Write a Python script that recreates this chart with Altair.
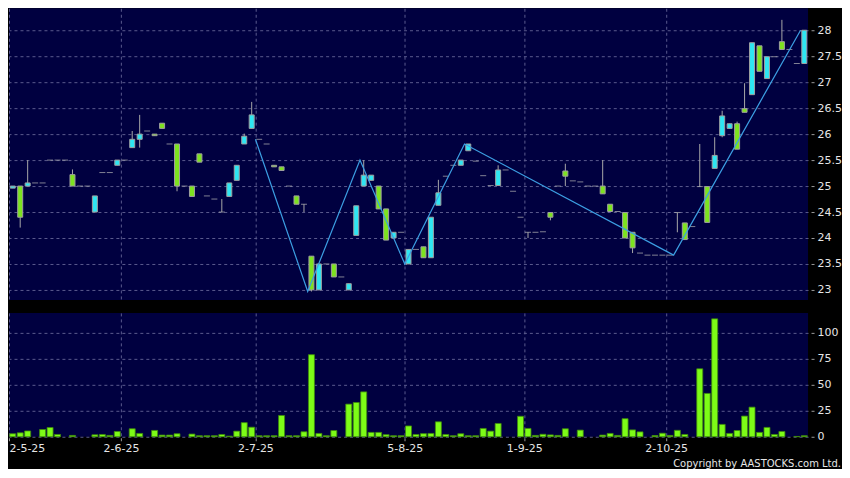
import altair as alt
import pandas as pd
import numpy as np

# ---------------- data ----------------
slot = list(range(107))
open_ = [24.96, 25.00, 25.00, 25.06, 25.06, 25.50, 25.50, 25.50, 25.22, 25.00,
         25.00, 24.50, 25.26, 25.26, 25.40, 25.50, 25.74, 25.90, 26.06, 26.00,
         26.21, 25.81, 25.81, 25.00, 25.00, 25.62, 24.81, 24.75, 24.50, 24.80,
         25.11, 25.81, 26.11, 25.90, 25.81, 25.40, 25.37, 25.00, 24.81, 24.65,
         23.65, 23.00, 23.50, 23.50, 23.25, 23.00, 24.05, 25.00, 25.11, 25.00,
         24.56, 24.00, 24.11, 23.50, 23.78, 23.83, 23.62, 24.63, 25.19, 25.40,
         25.40, 25.68, 25.48, 25.20, 25.01, 25.01, 25.31, 24.90, 24.40, 24.11,
         24.11, 24.12, 24.49, 25.00, 25.29, 25.10, 25.08, 25.00, 25.00, 25.00,
         24.65, 24.51, 24.49, 24.11, 23.71, 23.67, 23.67, 23.67, 23.67, 24.49,
         24.29, 24.22, 24.99, 24.99, 25.34, 25.97, 26.11, 26.20, 26.49, 26.76,
         27.70, 27.07, 27.49, 27.78, 27.63, 27.36, 27.36]
high = [25.00, 25.00, 25.50, 25.06, 25.06, 25.50, 25.50, 25.50, 25.32, 25.00,
        25.00, 24.81, 25.26, 25.26, 25.50, 25.50, 26.06, 26.37, 26.06, 26.00,
        26.21, 25.81, 25.81, 25.00, 25.00, 25.62, 24.81, 24.75, 24.75, 25.06,
        25.40, 26.01, 26.62, 25.90, 25.81, 25.40, 25.37, 25.00, 24.81, 24.65,
        23.65, 23.50, 23.50, 23.50, 23.25, 23.12, 24.62, 25.50, 25.21, 25.00,
        24.56, 24.11, 24.11, 23.78, 23.78, 23.83, 24.40, 25.12, 25.19, 25.40,
        25.50, 25.81, 25.48, 25.20, 25.01, 25.40, 25.31, 24.90, 24.40, 24.11,
        24.11, 24.12, 24.49, 25.00, 25.43, 25.10, 25.08, 25.00, 25.00, 25.50,
        24.65, 24.51, 24.49, 24.11, 23.71, 23.67, 23.67, 23.67, 23.67, 24.49,
        24.29, 24.22, 25.81, 24.99, 25.94, 26.45, 26.20, 26.24, 26.98, 27.76,
        27.70, 27.49, 27.49, 28.20, 27.63, 27.36, 28.00]
low = [24.96, 24.20, 25.00, 25.06, 25.06, 25.50, 25.50, 25.50, 25.00, 25.00,
       25.00, 24.50, 25.26, 25.26, 25.40, 25.50, 25.74, 25.74, 26.06, 25.97,
       26.11, 25.81, 24.90, 25.00, 24.80, 25.46, 24.81, 24.75, 24.50, 24.80,
       25.11, 25.81, 26.11, 25.90, 25.81, 25.37, 25.30, 25.00, 24.65, 24.50,
       22.97, 23.00, 23.50, 23.25, 23.25, 23.00, 24.05, 25.00, 25.11, 24.56,
       23.96, 24.00, 24.11, 23.50, 23.78, 23.62, 23.62, 24.63, 25.19, 25.40,
       25.40, 25.68, 25.48, 25.20, 25.01, 25.01, 25.31, 24.90, 24.40, 24.00,
       24.11, 24.12, 24.34, 25.00, 25.00, 25.10, 25.08, 25.00, 25.00, 24.85,
       24.51, 24.51, 24.00, 23.71, 23.71, 23.67, 23.67, 23.67, 23.67, 24.11,
       23.97, 24.22, 24.99, 24.30, 25.34, 25.94, 26.10, 25.71, 26.42, 26.76,
       27.21, 27.07, 27.49, 27.63, 27.63, 27.36, 27.36]
close = [25.00, 24.40, 25.06, 25.06, 25.06, 25.50, 25.50, 25.50, 25.00, 25.00,
         25.00, 24.81, 25.26, 25.26, 25.50, 25.50, 25.90, 26.00, 26.06, 25.97,
         26.11, 25.81, 25.00, 25.00, 24.80, 25.46, 24.81, 24.75, 24.50, 25.06,
         25.40, 25.96, 26.37, 25.90, 25.81, 25.37, 25.30, 25.00, 24.65, 24.65,
         23.00, 23.50, 23.50, 23.25, 23.25, 23.12, 24.62, 25.21, 25.21, 24.56,
         23.96, 24.11, 24.11, 23.78, 23.78, 23.62, 24.40, 24.87, 25.19, 25.40,
         25.50, 25.81, 25.48, 25.20, 25.01, 25.31, 25.31, 24.90, 24.40, 24.11,
         24.11, 24.12, 24.40, 25.00, 25.19, 25.10, 25.08, 25.00, 25.00, 24.85,
         24.51, 24.51, 24.00, 23.81, 23.71, 23.67, 23.67, 23.67, 23.67, 24.49,
         23.97, 24.22, 24.99, 24.30, 25.59, 26.35, 26.20, 25.71, 26.42, 27.76,
         27.21, 27.49, 27.49, 27.63, 27.63, 27.36, 28.00]
volume = [2.9, 3.8, 5.6, 0, 7.0, 8.9, 2.2, 0, 1.3, 0,
          0, 1.9, 2.2, 1.3, 5.1, 0, 7.7, 3.2, 0, 6.1,
          1.6, 1.6, 2.9, 0, 2.6, 1.0, 1.0, 1.0, 2.2, 0.6,
          5.4, 13.6, 9.2, 1.0, 1.0, 1.0, 20.5, 1.0, 1.0, 4.8,
          79.0, 3.2, 1.0, 6.0, 0, 31.4, 33.0, 43.2, 4.2, 4.2,
          2.0, 1.0, 1.0, 10.4, 2.2, 3.0, 3.2, 14.4, 2.2, 1.0,
          2.9, 1.0, 1.0, 8.0, 5.4, 12.8, 0, 0, 19.7, 8.0,
          1.3, 2.4, 1.8, 1.3, 7.7, 0, 6.4, 0, 0, 1.6,
          3.2, 1.3, 17.4, 6.6, 4.7, 0, 1.2, 3.4, 1.3, 6.2,
          2.2, 0, 65.4, 41.7, 113.5, 11.9, 3.2, 6.0, 19.9, 28.5,
          4.2, 9.0, 2.2, 5.1, 0, 0.3, 1.0]

# zig-zag line (turning points)
zz_x = [33, 40, 47, 53, 61, 89, 106]
zz_y = [25.90, 22.97, 25.50, 23.50, 25.81, 23.67, 28.00]

# axis ticks / labels
tick_pos = [0, 15, 33, 53, 69, 88]
tick_lab = ["2-5-25", "2-6-25", "2-7-25", "5-8-25", "1-9-25", "2-10-25"]
price_ticks = [23, 23.5, 24, 24.5, 25, 25.5, 26, 26.5, 27, 27.5, 28]
vol_ticks = [0, 25, 50, 75, 100]
copyright_text = "Copyright by AASTOCKS.com Ltd."

# ---------------- styling ----------------
N = len(slot)
W = 800
H1 = 292
H2 = 124
PX_PER_UNIT = 52.0
P_TOP = 28.423
NAVY = "#000040"
GRID = "#5a5a8e"
CYAN = "#2ee6f2"
GREEN = "#7de31f"
BODY_STROKE = "#a0a0a0"
WICK = "#a8a8a8"
DASH = "#b8b8b8"
ZZ = "#3c9fe3"
VOL = "#7dfc17"
VOL_STROKE = "#3f8a0c"
TEXT = "#e6e6e6"
FONT = "DejaVu Sans"

o = np.array(open_)
c = np.array(close)
df = pd.DataFrame({"slot": slot, "open": open_, "high": high, "low": low,
                   "close": close, "volume": volume})
df["xc"] = df["slot"] + 0.5
df["dir"] = np.where(c > o, "up", np.where(c < o, "down", "flat"))

zz = pd.DataFrame({"x": zz_x, "y": zz_y})

x_scale = alt.Scale(domain=[0, N], nice=False, zero=False, padding=0)
p_scale = alt.Scale(domain=[P_TOP - H1 / PX_PER_UNIT, P_TOP], nice=False, zero=False, padding=0)
v_scale = alt.Scale(domain=[0, 119.2], nice=False, zero=False, padding=0)

x_axis_top = alt.Axis(values=tick_pos, labels=False, ticks=False, domain=False,
                      grid=True, gridColor=GRID, gridDash=[3, 3], gridWidth=1)
p_axis = alt.Axis(orient="right", values=price_ticks, format="~g", grid=True,
                  gridColor=GRID, gridDash=[3, 3], gridWidth=1, tickSize=3,
                  tickColor="#9a9a9a", offset=3, labelPadding=3, domain=False,
                  labelFont=FONT, labelFontSize=11, labelColor=TEXT)

label_expr = "".join(f"datum.value == {p} ? '{l}' : " for p, l in zip(tick_pos, tick_lab)) + "''"
x_axis_bot = alt.Axis(values=tick_pos, labelExpr=label_expr, grid=True,
                      gridColor=GRID, gridDash=[3, 3], gridWidth=1, tickSize=3,
                      tickColor="#9a9a9a", offset=1, labelPadding=2, domain=False,
                      labelFlush=True, labelOverlap=False, labelFont=FONT,
                      labelFontSize=11, labelColor=TEXT)
v_axis = alt.Axis(orient="right", values=vol_ticks, grid=True, gridColor=GRID,
                  gridDash=[3, 3], gridWidth=1, tickSize=3, tickColor="#9a9a9a",
                  offset=3, labelPadding=3, domain=False, labelFont=FONT,
                  labelFontSize=11, labelColor=TEXT)

X = alt.X("xc:Q", scale=x_scale, axis=x_axis_top, title=None)

base = alt.Chart(df)

wicks = base.mark_rule(color=WICK, strokeWidth=1).encode(
    x=X,
    y=alt.Y("low:Q", scale=p_scale, axis=p_axis, title=None),
    y2="high:Q",
)
bodies = base.transform_filter("datum.open != datum.close").mark_bar(
    size=5, stroke=BODY_STROKE, strokeWidth=1
).encode(
    x=X,
    y=alt.Y("open:Q", scale=p_scale, axis=p_axis, title=None),
    y2="close:Q",
    color=alt.Color("dir:N", scale=alt.Scale(domain=["up", "down"], range=[CYAN, GREEN]),
                    legend=None),
)
dashes = base.transform_filter("datum.open == datum.close").mark_tick(
    orient="horizontal", size=6, thickness=1, color=DASH
).encode(
    x=X,
    y=alt.Y("close:Q", scale=p_scale, axis=p_axis, title=None),
)
zigzag = alt.Chart(zz).mark_line(color=ZZ, strokeWidth=1.2).encode(
    x=alt.X("x:Q", scale=x_scale, axis=x_axis_top, title=None),
    y=alt.Y("y:Q", scale=p_scale, axis=p_axis, title=None),
)
price = alt.layer(wicks, bodies, dashes, zigzag).properties(width=W, height=H1)

vol_bars = base.transform_filter("datum.volume > 0").mark_bar(
    size=6, color=VOL, stroke=VOL_STROKE, strokeWidth=0.8
).encode(
    x=alt.X("xc:Q", scale=x_scale, axis=x_axis_bot, title=None),
    y=alt.Y("volume:Q", scale=v_scale, axis=v_axis, title=None),
)
copy = alt.Chart(pd.DataFrame({"t": [copyright_text]})).mark_text(
    align="right", baseline="alphabetic", font=FONT, fontSize=10, color=TEXT
).encode(
    x=alt.value(W + 33),
    y=alt.value(H2 + 30),
    text="t:N",
)
vol = alt.layer(vol_bars, copy).properties(width=W, height=H2)

chart = alt.vconcat(price, vol, spacing=13).properties(
    padding={"left": 0, "top": 0, "right": 0, "bottom": 0}
).configure(background="#000000").configure_view(fill=NAVY, strokeWidth=0)

chart.save("out.html", embed_options={"renderer": "svg", "actions": False})
